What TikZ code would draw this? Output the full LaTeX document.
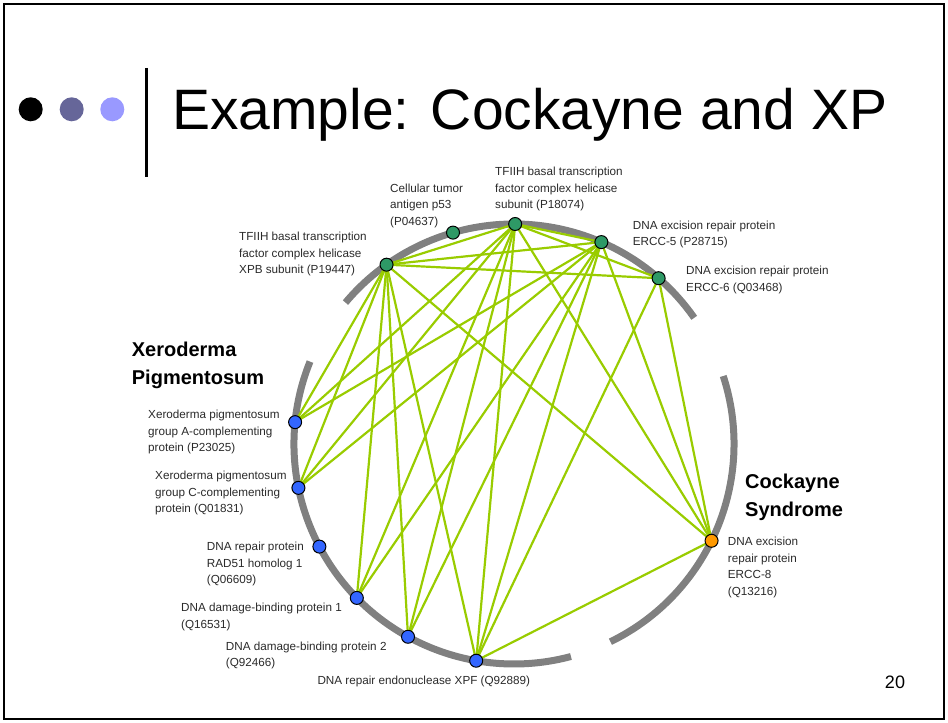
\documentclass[tikz,border=0pt]{standalone}
\usepackage{fontspec}
\setmainfont{Liberation Sans}
\definecolor{edgegreen}{HTML}{99CC00}
\definecolor{arcgray}{HTML}{808080}
\definecolor{nodegreen}{HTML}{2E9966}
\definecolor{nodeblue}{HTML}{3366FF}
\definecolor{nodeorange}{HTML}{FF9900}
\definecolor{dotmid}{HTML}{666699}
\definecolor{dotlight}{HTML}{9999FF}
\definecolor{labelgray}{HTML}{2A2A2A}
\begin{document}
\begin{tikzpicture}[x=1pt,y=1pt,
  prot/.style={circle, draw=black, line width=1pt, minimum size=13pt, inner sep=0pt},
  tfiih/.style={prot, fill=nodegreen},
  xpgene/.style={prot, fill=nodeblue},
  csgene/.style={prot, fill=nodeorange},
  link/.style={draw=edgegreen, line width=2.2pt},
  arcline/.style={draw=arcgray, line width=7pt, line cap=butt},
  lbl/.style={font=\fontsize{11.7}{16.5}\selectfont, text=labelgray, align=left, inner sep=0pt, anchor=west},
  grp/.style={font=\bfseries\fontsize{20}{28}\selectfont, align=left, inner sep=0pt, anchor=west}]
\useasboundingbox (0,0) rectangle (948,723);

% slide frame and header
\draw[line width=2pt] (4,4) rectangle (944,719);
\fill[black]    (30.7,613.7) circle (12);
\fill[dotmid]   (71.7,613.7) circle (12);
\fill[dotlight] (112.3,613.7) circle (12);
\draw[line width=3pt] (146.5,655) -- (146.5,546);
\node[anchor=base west, inner sep=0pt, font=\fontsize{57}{60}\selectfont] (title) at (172,593) {Example: Cockayne and XP};
\node[inner sep=0pt, font=\fontsize{18}{20}\selectfont] (pageno) at (895,41) {20};

% ring of disease groups
\coordinate (c) at (514,279);
\draw[arcline] ([shift={(35:220)}]c) arc[start angle=35, end angle=140, radius=220];
\draw[arcline] ([shift={(158:220)}]c) arc[start angle=158, end angle=285, radius=220];
\draw[arcline] ([shift={(-64:220)}]c) arc[start angle=-64, end angle=18, radius=220];

% protein positions on the ring
\coordinate (pxpb)   at ([shift={(125.4:220)}]c);
\coordinate (pp53)   at ([shift={(106.1:220)}]c);
\coordinate (pxpd)   at ([shift={(89.7:220)}]c);
\coordinate (percc5) at ([shift={(66.6:220)}]c);
\coordinate (percc6) at ([shift={(48.9:220)}]c);
\coordinate (pxpa)   at ([shift={(174.3:220)}]c);
\coordinate (pxpc)   at ([shift={(191.5:220)}]c);
\coordinate (prad)   at ([shift={(207.8:220)}]c);
\coordinate (pddb1)  at ([shift={(224.4:220)}]c);
\coordinate (pddb2)  at ([shift={(241.2:220)}]c);
\coordinate (pxpf)   at ([shift={(260.1:220)}]c);
\coordinate (percc8) at ([shift={(-26.1:220)}]c);

% interactions
\foreach \a/\b in {pxpb/pxpd, pxpb/percc5, pxpb/percc6, pxpb/pxpa, pxpb/pxpc, pxpb/pddb1, pxpb/pddb2, pxpb/pxpf, pxpb/percc8,
                   pxpd/percc5, pxpd/percc6, pxpd/pxpa, pxpd/pxpc, pxpd/pddb1, pxpd/pddb2, pxpd/pxpf, pxpd/percc8,
                   percc5/pxpa, percc5/pxpc, percc5/pddb1, percc5/pddb2, percc5/pxpf, percc5/percc8,
                   percc6/pxpf, percc6/percc8, pxpf/percc8}
  \draw[link] (\a) -- (\b);

% proteins
\node[tfiih]   (xpb)   at (pxpb)   {};
\node[tfiih]   (p53)   at (pp53)   {};
\node[tfiih]   (xpd)   at (pxpd)   {};
\node[tfiih]   (ercc5) at (percc5) {};
\node[tfiih]   (ercc6) at (percc6) {};
\node[xpgene]  (xpa)   at (pxpa)   {};
\node[xpgene]  (xpc)   at (pxpc)   {};
\node[xpgene]  (rad)   at (prad)   {};
\node[xpgene]  (ddb1)  at (pddb1)  {};
\node[xpgene]  (ddb2)  at (pddb2)  {};
\node[xpgene]  (xpf)   at (pxpf)   {};
\node[csgene]  (ercc8) at (percc8) {};

% labels
\node[lbl] (lxpb)   at (239,468.7) {TFIIH basal transcription\\factor complex helicase\\XPB subunit (P19447)};
\node[lbl] (lp53)   at (390,517.5) {Cellular tumor\\antigen p53\\(P04637)};
\node[lbl] (lxpd)   at (495,533.7) {TFIIH basal transcription\\factor complex helicase\\subunit (P18074)};
\node[lbl] (lercc5) at (632.7,488.6) {DNA excision repair protein\\ERCC-5 (P28715)};
\node[lbl] (lercc6) at (686,443) {DNA excision repair protein\\ERCC-6 (Q03468)};
\node[lbl] (lxpa)   at (148,291) {Xeroderma pigmentosum\\group A-complementing\\protein (P23025)};
\node[lbl] (lxpc)   at (155,230) {Xeroderma pigmentosum\\group C-complementing\\protein (Q01831)};
\node[lbl] (lrad)   at (206.7,159) {DNA repair protein\\RAD51 homolog 1\\(Q06609)};
\node[lbl] (lddb1)  at (181,106) {DNA damage-binding protein 1\\(Q16531)};
\node[lbl] (lddb2)  at (225.7,67.7) {DNA damage-binding protein 2\\(Q92466)};
\node[lbl] (lxpf)   at (317.3,41.3) {DNA repair endonuclease XPF (Q92889)};
\node[lbl] (lercc8) at (727.7,155.5) {DNA excision\\repair protein\\ERCC-8\\(Q13216)};
\node[grp] (gxp)    at (131.7,357.2) {Xeroderma\\Pigmentosum};
\node[grp] (gcs)    at (745,226) {Cockayne\\Syndrome};
\end{tikzpicture}
\end{document}
